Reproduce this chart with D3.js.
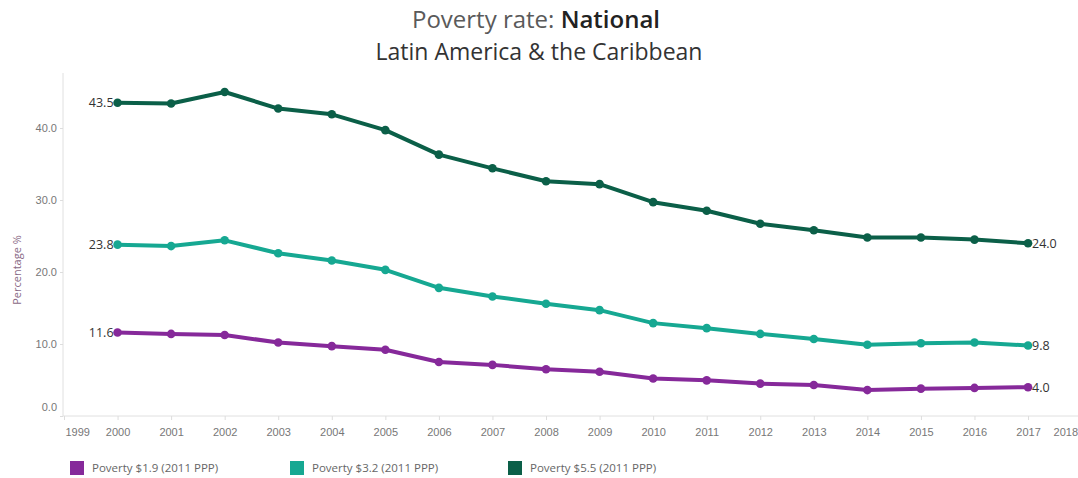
<!DOCTYPE html>
<html>
<head>
<meta charset="utf-8">
<script src="https://cdn.jsdelivr.net/npm/d3@7"></script>
<style>
  html, body { margin: 0; padding: 0; background: #fff; }
  svg { display: block; font-family: "Open Sans", "Noto Sans", sans-serif; }
</style>
</head>
<body>
<svg id="chart" width="1078" height="478"></svg>
<script>
const years = [2000, 2001, 2002, 2003, 2004, 2005, 2006, 2007, 2008, 2009, 2010, 2011, 2012, 2013, 2014, 2015, 2016, 2017];
const pov19 = [11.6, 11.4, 11.25, 10.2, 9.7, 9.2, 7.5, 7.1, 6.5, 6.15, 5.2, 4.95, 4.5, 4.3, 3.6, 3.8, 3.9, 4.0];
const pov32 = [23.8, 23.6, 24.4, 22.6, 21.6, 20.3, 17.8, 16.6, 15.6, 14.7, 12.9, 12.2, 11.4, 10.7, 9.9, 10.1, 10.2, 9.8];
const pov55 = [43.5, 43.4, 45.0, 42.7, 41.9, 39.7, 36.3, 34.4, 32.6, 32.2, 29.7, 28.5, 26.7, 25.8, 24.8, 24.8, 24.5, 24.0];
const seriesNames = ["Poverty $1.9 (2011 PPP)", "Poverty $3.2 (2011 PPP)", "Poverty $5.5 (2011 PPP)"];
const seriesColors = ["#86299a", "#16a892", "#0b5f48"];
const xTickYears = [1999, 2000, 2001, 2002, 2003, 2004, 2005, 2006, 2007, 2008, 2009, 2010, 2011, 2012, 2013, 2014, 2015, 2016, 2017, 2018];
const yTicks = [0, 10, 20, 30, 40];
const titleMain = "Poverty rate: ";
const titleBold = "National";
const subtitle = "Latin America & the Caribbean";
const yLabel = "Percentage %";

const series = [pov19, pov32, pov55].map((vals, i) => ({
  name: seriesNames[i], color: seriesColors[i],
  points: years.map((y, j) => ({ year: y, value: vals[j] }))
}));

const svg = d3.select("#chart");
const x = d3.scaleLinear().domain([1999, 2018]).range([64, 1081.6]);
const y = d3.scaleLinear().domain([0, 40]).range([416, 128]);

// Title
const t = svg.append("text").attr("x", 536).attr("y", 28).attr("text-anchor", "middle")
  .style("font-size", "24px");
t.append("tspan").attr("fill", "#5a5a5a").text(titleMain);
t.append("tspan").attr("fill", "#222").attr("font-weight", "600").text(titleBold);
svg.append("text").attr("x", 539).attr("y", 60).attr("text-anchor", "middle")
  .style("font-size", "23px").attr("fill", "#333").text(subtitle);

// Y axis
const yAxis = svg.append("g").attr("transform", "translate(63,0)")
  .call(d3.axisLeft(y).tickValues(yTicks).tickFormat(d3.format(".1f")).tickSize(3).tickPadding(3));
yAxis.select(".domain").attr("d", "M0,73V416").attr("stroke", "#e0e0e0");
yAxis.selectAll(".tick line").attr("stroke", "#ddd");
yAxis.selectAll(".tick text").attr("fill", "#777").style("font-size", "11px").style("font-family", "inherit");
yAxis.selectAll(".tick").filter(d => d === 0).select("text").attr("dy", "-0.5em");

svg.append("text").attr("transform", "translate(21,270) rotate(-90)")
  .attr("text-anchor", "middle").attr("fill", "#8a6a86").style("font-size", "11px").text(yLabel);

// X axis
const xAxis = svg.append("g").attr("transform", "translate(0,416)")
  .call(d3.axisBottom(x).tickValues(xTickYears).tickFormat(d3.format("d")).tickSize(4).tickPadding(8));
xAxis.select(".domain").attr("d", "M63,0H1078").attr("stroke", "#e0e0e0");
xAxis.selectAll(".tick line").attr("stroke", "#ddd");
xAxis.selectAll(".tick text").attr("fill", "#777").style("font-size", "11px").style("font-family", "inherit");
xAxis.selectAll(".tick").filter(d => d === 1999).select("text").attr("text-anchor", "start").attr("dx", 1);
xAxis.selectAll(".tick").filter(d => d === 2018).select("text").attr("text-anchor", "end").attr("dx", -4);

// Lines
const line = d3.line().x(d => x(d.year)).y(d => y(d.value));
const g = svg.append("g");
series.forEach(s => {
  g.append("path").datum(s.points).attr("d", line).attr("fill", "none")
    .attr("stroke", s.color).attr("stroke-width", 4).attr("stroke-linejoin", "round");
  g.selectAll(null).data(s.points).enter().append("circle")
    .attr("cx", d => x(d.year)).attr("cy", d => y(d.value)).attr("r", 4.3).attr("fill", s.color);
  const first = s.points[0], last = s.points[s.points.length - 1];
  g.append("text").attr("x", x(first.year) - 4).attr("y", y(first.value)).attr("dy", "0.35em")
    .attr("text-anchor", "end").attr("fill", "#333").style("font-size", "12.5px").text(first.value.toFixed(1));
  g.append("text").attr("x", x(last.year) + 4).attr("y", y(last.value)).attr("dy", "0.35em")
    .attr("text-anchor", "start").attr("fill", "#333").style("font-size", "12.5px").text(last.value.toFixed(1));
});

// Legend
const legendX = [70, 290, 508];
const lg = svg.append("g");
series.forEach((s, i) => {
  lg.append("rect").attr("x", legendX[i]).attr("y", 461).attr("width", 14).attr("height", 14).attr("fill", s.color);
  lg.append("text").attr("x", legendX[i] + 22).attr("y", 468).attr("dy", "0.35em")
    .attr("fill", "#666").style("font-size", "11.5px").text(s.name);
});
</script>
</body>
</html>
